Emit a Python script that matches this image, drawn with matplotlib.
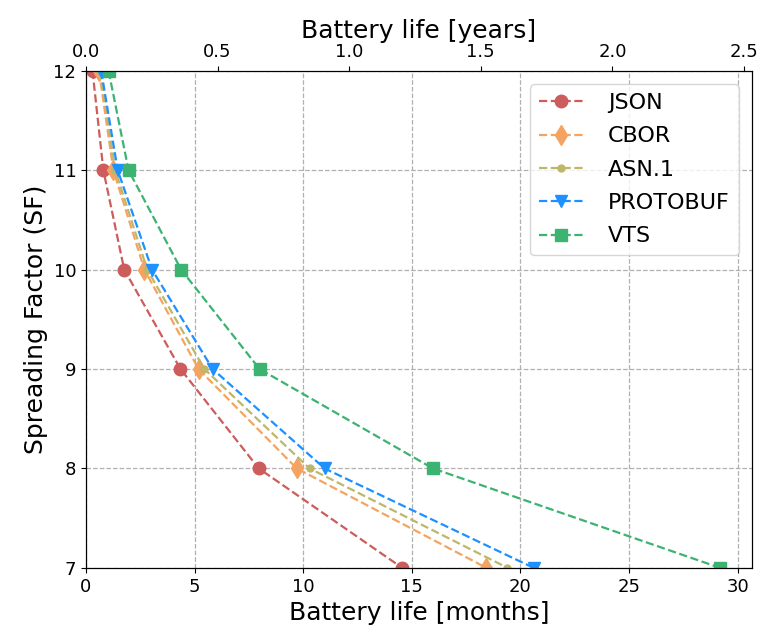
import matplotlib
matplotlib.use('Agg')
import matplotlib.pyplot as plt

sf = [12, 11, 10, 9, 8, 7]
json_life     = [0.30, 0.80, 1.76, 4.35, 7.95, 14.55]
cbor_life     = [0.60, 1.26, 2.69, 5.18, 9.70, 18.43]
asn1_life     = [0.65, 1.35, 2.82, 5.45, 10.29, 19.40]
protobuf_life = [0.70, 1.46, 3.04, 5.83, 10.98, 20.60]
vts_life      = [1.04, 1.96, 4.38, 7.99, 15.97, 29.18]

series = [
    ('JSON', json_life, '#cd5c5c', 'o', 9),
    ('CBOR', cbor_life, '#f4a460', 'd', 10),
    ('ASN.1', asn1_life, '#bdb76b', '.', 10),
    ('PROTOBUF', protobuf_life, '#1e90ff', 'v', 9),
    ('VTS', vts_life, '#3cb371', 's', 8),
]

fig, ax = plt.subplots(figsize=(7.61, 6.33), dpi=100)
fig.subplots_adjust(left=0.113, right=0.988, top=0.888, bottom=0.103)

for name, vals, col, mk, ms in series:
    ax.plot(vals, sf, linestyle='--', marker=mk, color=col, markersize=ms,
            linewidth=1.6, label=name)

ax.set_xlim(0, 30.65)
ax.set_ylim(7, 12)
ax.set_xlabel('Battery life [months]', fontsize=18)
ax.set_ylabel('Spreading Factor (SF)', fontsize=18)
ax.tick_params(labelsize=13)
ax.grid(True, linestyle='--', color='#b0b0b0', linewidth=0.9)
ax.legend(loc='upper right', fontsize=16, borderaxespad=0.6,
          labelspacing=0.6, handletextpad=1.1)

ax2 = ax.twiny()
ax2.set_xlim(0, 2.53)
ax2.set_xlabel('Battery life [years]', fontsize=18)
ax2.tick_params(labelsize=13)

plt.savefig('out.png', dpi=100)
